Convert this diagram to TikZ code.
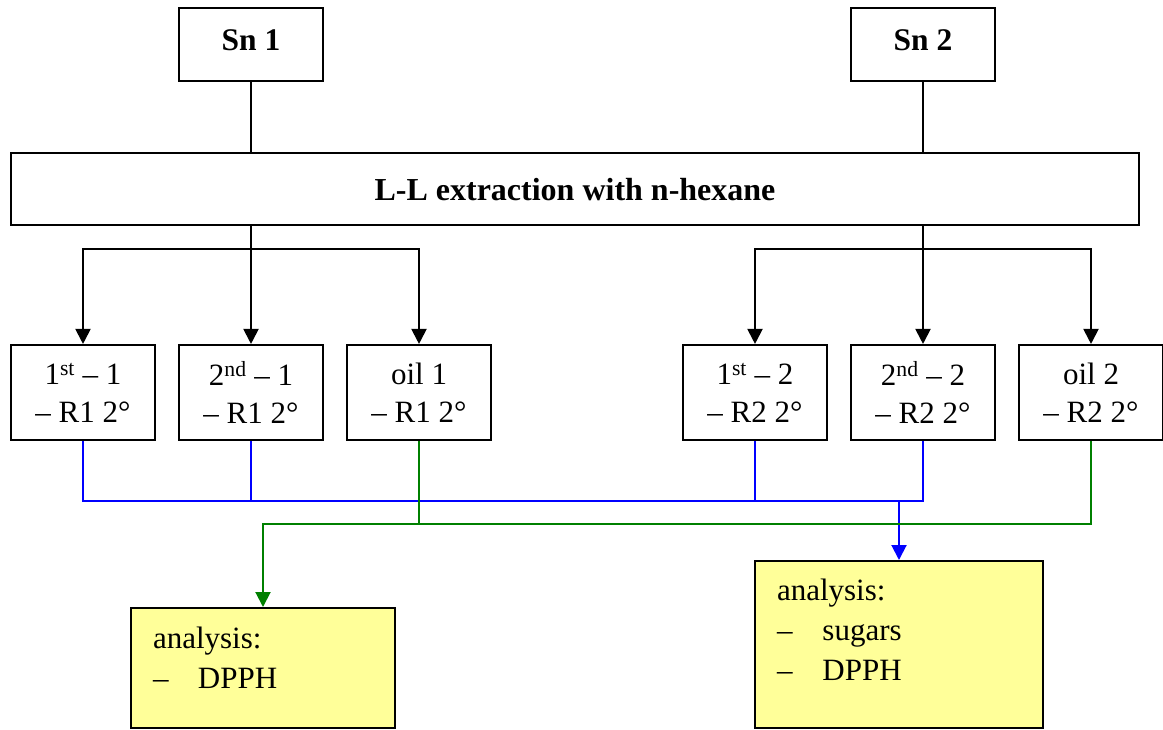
\documentclass[tikz,border=0pt]{standalone}
\usepackage{fontspec}
\setmainfont{Liberation Serif}
\usetikzlibrary{arrows.meta}
\definecolor{notefill}{HTML}{FFFF99}
\definecolor{linkblue}{HTML}{0000FF}
\definecolor{linkgreen}{HTML}{008000}
\begin{document}
\begin{tikzpicture}[x=1pt,y=-1pt,
  line width=2pt,
  srcbox/.style={draw, line width=2pt, minimum width=144pt, minimum height=72.5pt,
    inner sep=0pt, font=\fontsize{31.5}{37}\selectfont\bfseries, text height=22pt, text depth=9.6pt},
  procbox/.style={draw, line width=2pt, minimum width=1128pt, minimum height=72pt,
    inner sep=0pt, font=\fontsize{32}{37}\selectfont\bfseries, text height=22pt, text depth=0pt},
  fracbox/.style={draw, line width=2pt, minimum width=144pt, minimum height=95.5pt,
    inner sep=0pt, align=center, font=\fontsize{31}{37.7}\selectfont},
  notebox/.style={draw, line width=2pt, fill=notefill, inner sep=0pt},
  notetext/.style={anchor=base west, inner sep=0pt, font=\fontsize{31}{40}\selectfont},
  arr/.style={-{Triangle[width=15pt,length=15pt]}},
  bluelink/.style={draw=linkblue, line width=2pt},
  greenlink/.style={draw=linkgreen, line width=2pt}
]
\useasboundingbox (0,0) rectangle (1163,729);

% sources
\node[srcbox] (sn1) at (251,44.5) {Sn 1};
\node[srcbox] (sn2) at (923,44.5) {Sn 2};

% extraction step
\node[procbox] (ll) at (575,189) {L-L extraction with n-hexane};

% fractions
\node[fracbox] (f1) at (83,392.7)  {1\textsuperscript{st} – 1\\– R1 2°};
\node[fracbox] (f2) at (251,392.7) {2\textsuperscript{nd} – 1\\– R1 2°};
\node[fracbox] (f3) at (419,392.7) {oil 1\\– R1 2°};
\node[fracbox] (f4) at (755,392.7) {1\textsuperscript{st} – 2\\– R2 2°};
\node[fracbox] (f5) at (923,392.7) {2\textsuperscript{nd} – 2\\– R2 2°};
\node[fracbox] (f6) at (1091,392.7) {oil 2\\– R2 2°};

% analysis boxes
\node[notebox, minimum width=264pt, minimum height=120pt] (an1) at (263,668) {};
\node[notebox, minimum width=288pt, minimum height=167pt] (an2) at (899,644.5) {};

\node[notetext] (an1a) at (152,648) {analysis:};
\node[notetext] (an1b) at (152,688) {\makebox[45pt][l]{–}DPPH};
\node[notetext] (an2a) at (776,600) {analysis:};
\node[notetext] (an2b) at (776,640) {\makebox[45.5pt][l]{–}sugars};
\node[notetext] (an2c) at (776,680) {\makebox[45.5pt][l]{–}DPPH};

% bus levels
\coordinate (splitY) at (0,249);
\coordinate (blueY) at (0,500.7);
\coordinate (greenY) at (0,524.3);

% sources into extraction
\draw (sn1.south) -- (sn1.south |- ll.north);
\draw (sn2.south) -- (sn2.south |- ll.north);

% extraction into fractions
\draw (ll.south -| f2.north) -- (f2.north |- splitY);
\draw[arr] (f2.north |- splitY) -- (f2.north);
\draw[arr] (f2.north |- splitY) -| (f1.north);
\draw[arr] (f2.north |- splitY) -| (f3.north);
\draw (ll.south -| f5.north) -- (f5.north |- splitY);
\draw[arr] (f5.north |- splitY) -- (f5.north);
\draw[arr] (f5.north |- splitY) -| (f4.north);
\draw[arr] (f5.north |- splitY) -| (f6.north);

% extracts to sugars / DPPH analysis
\draw[bluelink] (f1.south) |- (f5.south |- blueY) -- (f5.south);
\draw[bluelink] (f2.south) -- (f2.south |- blueY);
\draw[bluelink] (f4.south) -- (f4.south |- blueY);
\draw[bluelink, arr] (an2.north |- blueY) -- (an2.north);

% oils to DPPH analysis
\draw[greenlink, arr] (f6.south) |- (an1.north |- greenY) -- (an1.north);
\draw[greenlink] (f3.south) -- (f3.south |- greenY);
\end{tikzpicture}
\end{document}
